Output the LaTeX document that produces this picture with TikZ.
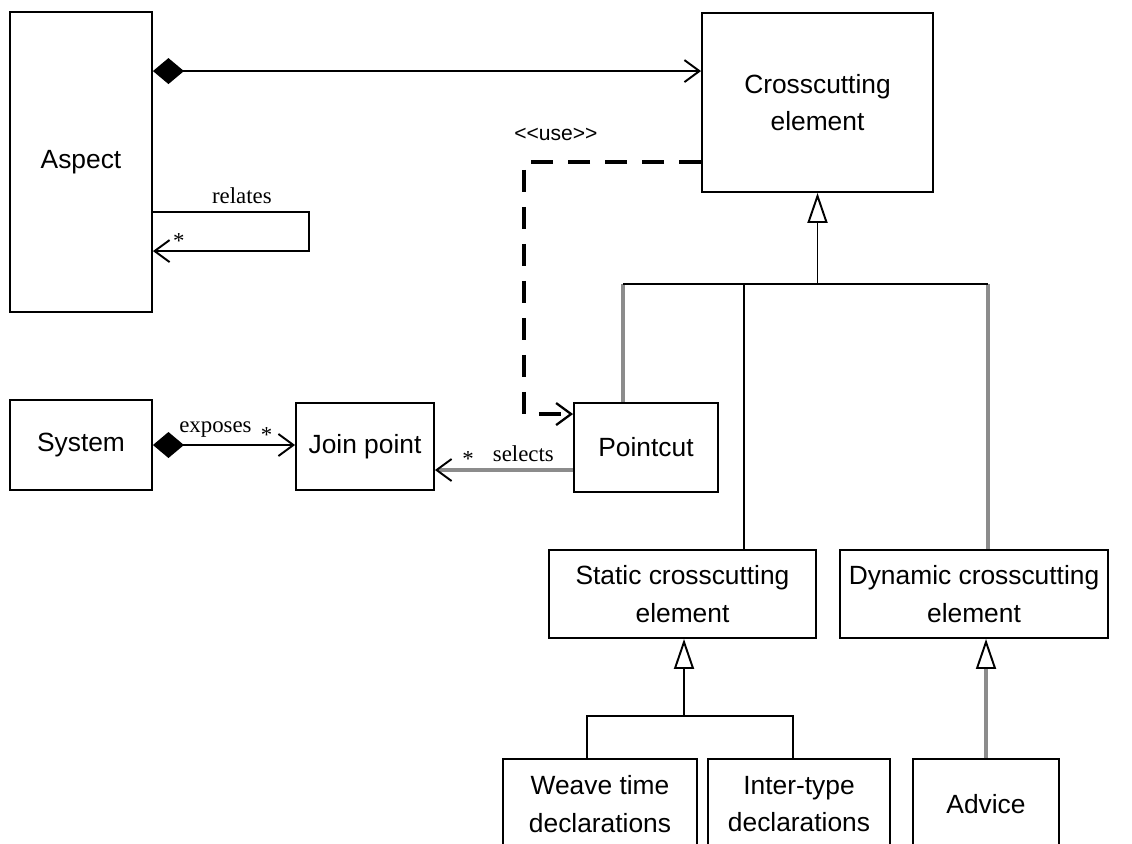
\documentclass[tikz,border=0pt]{standalone}
\usepackage{fontspec}
\setmainfont{Liberation Serif}
\newfontfamily\boxfont{Liberation Sans}
\usepackage{tikz}
\usetikzlibrary{arrows.meta,calc,positioning}
\tikzset{%
	block/.style    = {draw, rectangle, line width=1.1pt, inner sep=0pt, align=center, font=\boxfont\fontsize{15}{21.5}\selectfont},
	lbl/.style      = {font=\fontsize{13}{15}\selectfont, inner sep=1pt}, % role name
	mult/.style     = {font=\fontsize{13}{15}\selectfont, inner sep=0pt}, % multiplicity
	stereo/.style   = {font=\boxfont\fontsize{12}{14}\selectfont, inner sep=1pt},
	link/.style     = {line width=1.1pt},
	grayline/.style = {draw=black!45, line width=1.9pt},
	assoc/.style    = {link, -{Straight Barb[length=0.3cm, width=0.44cm, color=black, line width=1.1pt]}},
	comp/.style     = {link, {Diamond[length=0.62cm, width=0.52cm]}-{Straight Barb[length=0.3cm, width=0.44cm]}},
	gen/.style      = {link, -{Triangle[open, length=0.6cm, width=0.4cm, color=black, fill=white, line width=1.1pt]}},
	usedep/.style   = {line width=2.3pt, dash pattern=on 0.44cm off 0.3cm, -{Straight Barb[length=0.3cm, width=0.44cm, line width=1.3pt]}},
}

\begin{document}
\begin{tikzpicture}[x=0.02cm,y=-0.02cm]
	\useasboundingbox (0,0) rectangle (1132,843);

	\node [block, minimum width=2.84cm, minimum height=6cm] (aspect) at (81,162) {Aspect};
	\node [block, minimum width=4.62cm, minimum height=3.58cm] (cross) at (817.5,102.5) {Crosscutting\\element};
	\node [block, minimum width=2.84cm, minimum height=1.8cm] (system) at (81,445) {System};
	\node [block, minimum width=2.76cm, minimum height=1.74cm] (joinpt) at (365,446.5) {Join point};
	\node [block, minimum width=2.88cm, minimum height=1.78cm] (pointcut) at (646,447.5) {Pointcut};
	\node [block, minimum width=5.34cm, minimum height=1.76cm] (static) at (682.5,594) {Static crosscutting\\element};
	\node [block, minimum width=5.36cm, minimum height=1.76cm] (dynamic) at (974,594) {Dynamic crosscutting\\element};
	\node [block, minimum width=3.88cm, minimum height=1.8cm] (weave) at (600,804) {Weave time\\declarations};
	\node [block, minimum width=3.64cm, minimum height=1.8cm] (inter) at (799,804) {Inter-type\\declarations};
	\node [block, minimum width=2.92cm, minimum height=1.8cm] (advice) at (986,804) {Advice};

	% associations
	\draw[comp] ($(aspect.north east)+(0,60)$) coordinate (ac) -- (ac -| cross.west);
	\draw[assoc] ($(aspect.north east)+(0,201)$) -- node[lbl, above=3pt, pos=0.57] {relates} ++(156,0)
		|- node[mult, pos=0.917, above=1pt] {*} ($(aspect.north east)+(0,240)$);
	\draw[comp] (system.east) -- node[lbl, above=3pt, pos=0.44] {exposes} node[mult, pos=0.8, above=1pt] {*} (system.east -| joinpt.west);
	\draw[assoc, grayline] ($(pointcut.west)+(0,22.5)$) coordinate (sc) -- node[lbl, above=3pt, pos=0.36] {selects}
		node[mult, pos=0.76, above=1pt] {*} (sc -| joinpt.east);
	\draw[usedep] ($(cross.west)+(0,59.5)$) -| node[stereo, above=10pt, pos=0.41] {<<use>>} ($(pointcut.north west)+(-49,12)$)
		-- ($(pointcut.north west)+(0,12)$);

	% generalizations
	\coordinate (bus) at ($(cross.south)+(0,91)$);
	\draw[gen] (bus) -- (cross.south);
	\draw[grayline] ($(pointcut.north)+(-23,0)$) coordinate (pb) -- (pb |- bus);
	\draw[grayline] ($(dynamic.north)+(14,0)$) coordinate (db) -- (db |- bus);
	\draw[link] ($(static.north)+(61.5,0)$) coordinate (sb) -- (sb |- bus);
	\draw[link] (pb |- bus) -- (db |- bus);

	\coordinate (sbus) at ($(static.south)+(1.5,77)$);
	\draw[gen] (sbus) -- (sbus |- static.south);
	\draw[link] ($(weave.north)+(-13,0)$) |- (sbus) -| ($(inter.north)+(-6,0)$);
	\draw[gen, grayline] (advice.north) -- (advice.north |- dynamic.south);
\end{tikzpicture}
\end{document}
